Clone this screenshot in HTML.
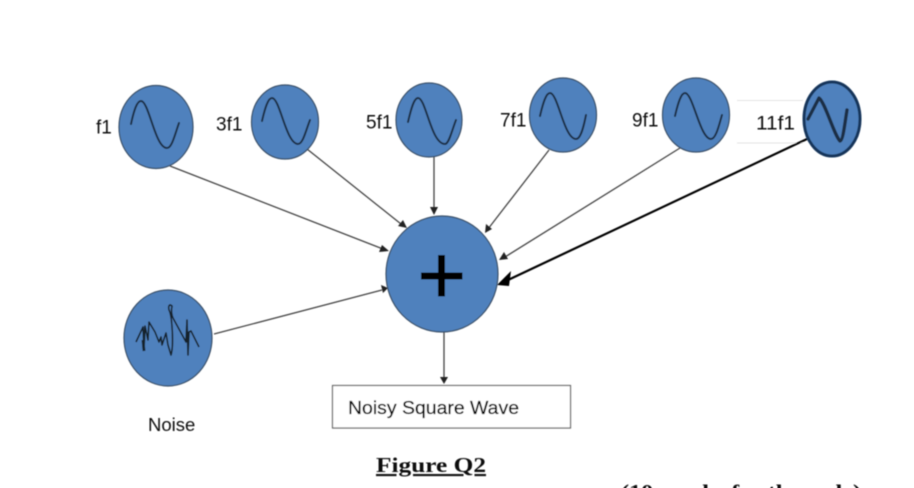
<!DOCTYPE html>
<html>
<head>
<meta charset="utf-8">
<style>
html,body{margin:0;padding:0;background:#fff;width:914px;height:488px;overflow:hidden}
svg{display:block}
text{font-family:"Liberation Sans",sans-serif;fill:#111}
</style>
</head>
<body>
<svg width="914" height="488" viewBox="0 0 914 488" xmlns="http://www.w3.org/2000/svg">
<defs>
<filter id="b" x="-5%" y="-5%" width="110%" height="110%"><feGaussianBlur stdDeviation="0.4"/></filter>
</defs>
<g filter="url(#b)">
<!-- table lines near 11f1 -->
<path d="M737 100.500H803M737 143H803" stroke="#e4e4e4" stroke-width="1" fill="none"/>

<!-- connectors -->
<g stroke="#444" stroke-width="1.300" fill="none">
<path d="M170 166L383 249"/>
<path d="M307 149L401 224"/>
<path d="M434 157V209"/>
<path d="M549 150L488 229"/>
<path d="M680 148L505 257"/>
<path d="M214 334L382 290"/>
<path d="M444 332V378"/>
</g>
<path d="M807 139L508 280" stroke="#000" stroke-width="2.200" fill="none"/>

<!-- arrowheads -->
<g fill="#222">
<path d="M389 251L379 252L382 245Z"/>
<path d="M407 228L398 226L403 220Z"/>
<path d="M434 215L430 207H438Z"/>
<path d="M485 233L486 224L492 229Z"/>
<path d="M499 260L504 252L508 259Z"/>
<path d="M388 288L381 285L383 293Z"/>
<path d="M444 384L440 377H448Z"/>
</g>
<path d="M497 285L511 271L509 286Z" fill="#000"/>

<!-- source circles -->
<g fill="#4f81bd" stroke="#3a4f66" stroke-width="1.200">
<ellipse cx="156" cy="127" rx="37" ry="41.500"/>
<ellipse cx="285" cy="122" rx="33.500" ry="37"/>
<ellipse cx="429" cy="120" rx="33" ry="37"/>
<ellipse cx="563" cy="115" rx="33.500" ry="37"/>
<ellipse cx="696" cy="115" rx="33.500" ry="37"/>
<ellipse cx="168" cy="338" rx="44" ry="48"/>
<ellipse cx="442" cy="274" rx="56" ry="58"/>
</g>
<ellipse cx="832" cy="119" rx="28" ry="37" fill="#4f81bd" stroke="#13345a" stroke-width="3"/>

<!-- sine waves -->
<g fill="none" stroke="#1c2f45" stroke-width="2" stroke-linecap="round">
<path d="M131 124C134 110 137 101 141 101C149 101 155 148 167 148C172 148 175 134 179 123"/>
<path d="M262 121C265 108 268 98 272 98C280 98 286 144 298 144C303 144 306 130 310 120"/>
<path d="M408 122C411 109 414 98 418 98C426 98 431 144 445 144C449 144 452 130 456 120"/>
<path d="M540 116C543 103 546 93 550 93C558 93 564 139 576 139C581 139 584 125 586 115"/>
<path d="M675 116C678 103 681 93 685 93C693 93 700 139 711 139C716 139 719 125 722 115"/>
</g>
<path d="M808 119L819 98C825 102 834 135 840 141C843 141 845 122 847 110" fill="none" stroke="#1c2f45" stroke-width="3.400" stroke-linecap="round" stroke-linejoin="round"/>

<!-- noise wave -->
<path d="M136 342L143 327L144 349L145 326L148 340L149 322L155 332L159 342L161 337L162 345L166 333L168 345L171 355C174 345 172 315 169 310C168 305 170 304 172 306C171 312 172 316 173 318L186 342L187 320L188 355L189 332L191 331L199 347" fill="none" stroke="#16202c" stroke-width="1.600" stroke-linejoin="round"/>
<path d="M143 340L144 351" stroke="#16202c" stroke-width="2.800" fill="none"/>

<!-- plus -->
<path d="M421 276H462.500M441.500 255V296.500" stroke="#000" stroke-width="7" fill="none"/>

<!-- labels -->
<g font-size="19">
<text x="96" y="133.500">f1</text>
<text x="216" y="130.500">3f1</text>
<text x="366" y="128.500">5f1</text>
<text x="500" y="126.500">7f1</text>
<text x="632" y="126.500">9f1</text>
<text x="756" y="129.500" textLength="39" lengthAdjust="spacingAndGlyphs">11f1</text>
<text x="148" y="431" font-size="18.500">Noise</text>
</g>

<!-- output box -->
<rect x="332.500" y="385.500" width="238" height="42.500" fill="#fff" stroke="#666" stroke-width="1.200"/>
<text x="348" y="414" style="font-family:'Liberation Sans',sans-serif;fill:#000;stroke:#000;stroke-width:0.250" font-size="18.500" textLength="171" lengthAdjust="spacingAndGlyphs">Noisy Square Wave</text>

<!-- caption -->
<text x="376" y="472" style="font-family:'Liberation Serif',serif;font-weight:bold;fill:#111;text-decoration:underline" font-size="21" textLength="110" lengthAdjust="spacingAndGlyphs">Figure Q2</text>
<text x="621" y="499" style="font-family:'Liberation Serif',serif;font-weight:bold;fill:#111" font-size="21" textLength="240" lengthAdjust="spacingAndGlyphs">(10 marks for the code)</text>
</g>
</svg>
</body>
</html>
